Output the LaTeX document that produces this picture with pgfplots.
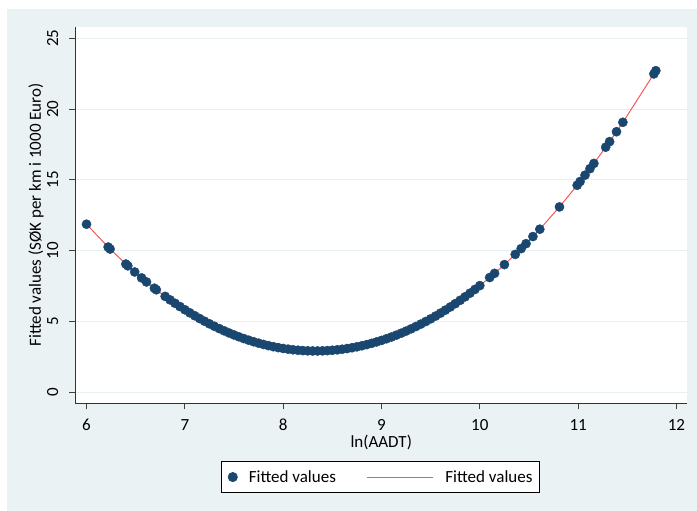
\documentclass[border=0pt]{standalone}
\usepackage{pgfplots}
\pgfplotsset{compat=1.18}
\usepackage{pgfplotstable}
\usepackage{fontspec}
\setmainfont{Carlito}
\definecolor{bgc}{RGB}{234,242,243}
\definecolor{gridc}{RGB}{232,240,242}
\definecolor{navyc}{RGB}{26,71,111}
\definecolor{linec}{RGB}{248,88,88}
\newcommand{\fsz}{\fontsize{17pt}{20pt}\selectfont}
\pgfplotsset{
  scatleg/.style={legend image code/.code={\draw[##1] plot coordinates {(4.5pt,0pt)};}},
  lineleg/.style={legend image code/.code={\draw[##1] (0pt,0pt) -- (66pt,0pt);}},
}
\pgfplotstableread{
x y
6.00 11.859
6.22 10.245
6.24 10.107
6.40 9.045
6.42 8.918
6.49 8.484
6.56 8.067
6.61 7.779
6.69 7.335
6.71 7.227
6.80 6.759
6.85 6.511
6.90 6.271
6.95 6.039
7.00 5.815
7.05 5.600
7.10 5.393
7.15 5.194
7.20 5.003
7.25 4.821
7.30 4.647
7.35 4.481
7.40 4.324
7.45 4.174
7.50 4.033
7.55 3.901
7.60 3.776
7.65 3.660
7.70 3.552
7.75 3.452
7.80 3.361
7.85 3.278
7.90 3.203
7.95 3.136
8.00 3.078
8.05 3.028
8.10 2.986
8.15 2.952
8.20 2.927
8.25 2.910
8.30 2.901
8.35 2.901
8.40 2.909
8.45 2.925
8.50 2.949
8.55 2.981
8.60 3.022
8.65 3.071
8.70 3.129
8.75 3.194
8.80 3.268
8.85 3.350
8.90 3.441
8.95 3.540
9.00 3.646
9.05 3.762
9.10 3.885
9.15 4.017
9.20 4.157
9.25 4.305
9.30 4.462
9.35 4.627
9.40 4.800
9.45 4.981
9.50 5.171
9.55 5.368
9.60 5.575
9.65 5.789
9.70 6.012
9.75 6.243
9.80 6.482
9.85 6.729
9.90 6.985
9.95 7.249
10.00 7.521
10.10 8.090
10.15 8.388
10.25 9.006
10.36 9.725
10.42 10.134
10.47 10.484
10.54 10.988
10.61 11.508
10.81 13.083
10.99 14.614
11.02 14.879
11.07 15.328
11.12 15.786
11.16 16.157
11.28 17.305
11.32 17.698
11.39 18.398
11.455 19.063
11.77 22.484
11.79 22.712
}\fitted
\begin{document}
\begin{tikzpicture}[x=1pt,y=1pt]
\fill[white] (0,0) rectangle (697,511);
\fill[bgc] (7,0) rectangle (697,502);
\useasboundingbox (0,0) rectangle (697,511);
\begin{axis}[
  at={(75.5pt,108pt)}, anchor=south west,
  scale only axis, width=611.5pt, height=376pt,
  xmin=5.888, xmax=12.107, ymin=-0.777, ymax=25.8,
  axis background/.style={fill=white},
  axis x line*=bottom, axis y line*=left,
  axis line style={black!80, line width=0.9pt},
  xtick={6,7,...,12}, ytick={0,5,...,25},
  tick align=outside, major tick length=6pt,
  tick style={black!75, line width=0.9pt},
  ymajorgrids, grid style={gridc, line width=1pt},
  tick label style={font=\fsz, inner sep=0pt},
  /pgf/number format/assume math mode=true,
  xticklabel style={anchor=north},
  yticklabel style={rotate=90, anchor=south},
  xticklabel shift=10pt, yticklabel shift=11pt,
  xlabel={ln(AADT)}, ylabel={Fitted values (SØK per km i 1000 Euro)},
  label style={font=\fsz},
  xlabel style={at={(axis description cs:0.5,-0.1037)}, anchor=center},
  ylabel style={at={(axis description cs:-0.0646,0.5)}, anchor=center},
  legend columns=2,
  legend style={at={(axis description cs:0.4985,-0.1543)}, anchor=north,
    draw=black, line width=0.8pt, fill=white, font=\fsz,
    inner xsep=6.5pt, inner ysep=9pt, column sep=11.5pt,
    /tikz/every even column/.append style={column sep=31pt},
    nodes={inner sep=0pt}},
]
\addplot[only marks, mark=*, mark size=4.6pt, color=navyc,
  mark options={fill=navyc, draw=navyc}, scatleg]
  table {\fitted};
\addlegendentry{Fitted values}
\addplot[color=linec, line width=1pt, no marks, lineleg]
  table {\fitted};
\addlegendentry{Fitted values}
\end{axis}
\end{tikzpicture}
\end{document}
